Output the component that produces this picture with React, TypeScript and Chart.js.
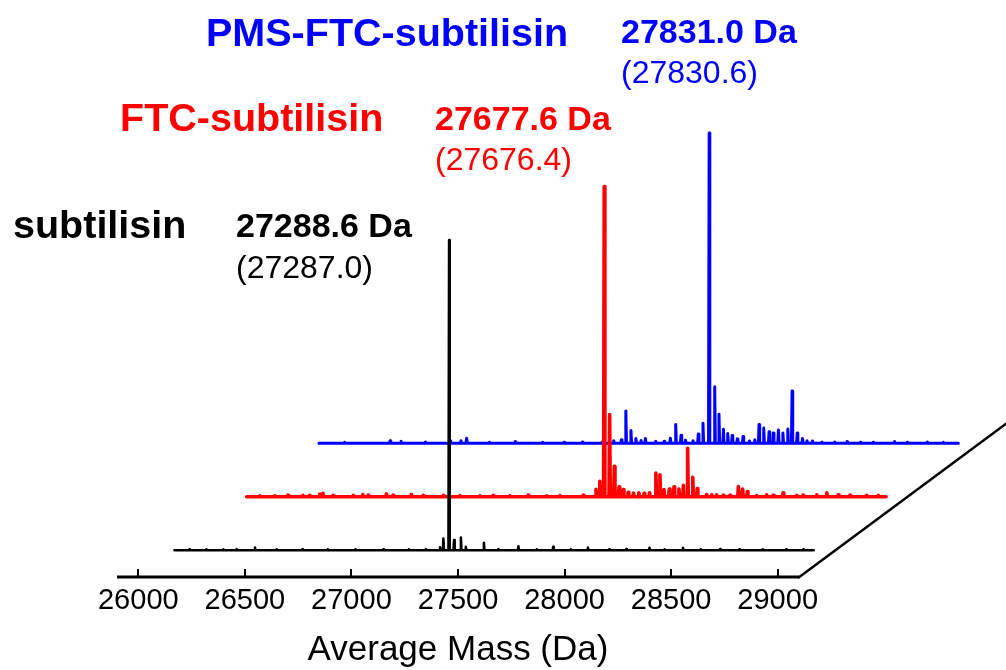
import { useEffect, useRef } from "react";
import { Chart, registerables } from "chart.js";

Chart.register(...registerables);

const FONT = '"Liberation Sans", Arial, Helvetica, sans-serif';

// ---- x axis ----
const axisMin = 25900;
const axisMax = 29100;
const tickValues = [26000, 26500, 27000, 27500, 28000, 28500, 29000];
const xAxisTitle = "Average Mass (Da)";

// ---- spectrum extent (each trace) ----
const spectrumStart = 26000;
const spectrumEnd = 29000;

// ---- waterfall depth ----
const depthStepMass = 339;
const depthStepIntensity = 17.25;
const depthPlanes = [0.5, 1.5, 2.5];
const depthTotal = 3;
const intensityMax = 186;

// ---- series labels ----
const seriesNames = ["subtilisin", "FTC-subtilisin", "PMS-FTC-subtilisin"];
const seriesColors = ["#000000", "#ff0000", "#0000ff"];
const observedMass = ["27288.6 Da", "27677.6 Da", "27831.0 Da"];
const expectedMass = ["(27287.0)", "(27676.4)", "(27830.6)"];

// ---- subtilisin (black) ----
const subtilisinMass = [
  26070, 26150, 26230, 26292, 26378, 26480, 26600, 26720, 26850, 26980, 27100, 27180,
  27246, 27262, 27288.6, 27312, 27344, 27367, 27452, 27520, 27614, 27700, 27777, 27860,
  27940, 28040, 28120, 28229, 28300, 28386, 28470, 28560, 28650, 28760, 28870, 28950,
];
const subtilisinIntensity = [
  0.3, 0.3, 0.3, 0.4, 0.9, 0.3, 0.3, 0.3, 0.3, 0.3, 0.3, 0.4,
  1.0, 3.8, 100, 3.3, 4.1, 1.1, 2.4, 0.4, 1.3, 0.3, 1.1, 0.3,
  0.9, 0.3, 0.4, 0.8, 0.3, 0.8, 0.3, 0.4, 0.3, 0.3, 0.3, 0.3,
];

// ---- FTC-subtilisin (red) ----
const ftcMass = [
  26061, 26132, 26194, 26264, 26296, 26343, 26358, 26405, 26499, 26545, 26570, 26656,
  26687, 26773, 26828, 26922, 27000, 27094, 27156, 27235, 27321, 27407, 27470, 27579,
  27639, 27657, 27677.6, 27703, 27725, 27747, 27767, 27790, 27815, 27840, 27865, 27890,
  27920, 27939, 27958, 27983, 28005, 28028, 28049, 28069, 28093, 28114, 28158, 28182,
  28205, 28236, 28268, 28307, 28327, 28349, 28393, 28440, 28471, 28517, 28581, 28612,
  28675, 28722, 28776, 28831, 28909, 28964,
];
const ftcIntensity = [
  0.3, 0.3, 0.5, 0.5, 0.5, 0.9, 1.1, 0.4, 0.4, 0.7, 0.5, 0.9,
  0.5, 0.7, 0.4, 0.4, 0.4, 0.3, 0.4, 0.3, 0.5, 0.3, 0.4, 0.5,
  2.4, 5.0, 100, 26.5, 9.8, 3.2, 2.3, 1.4, 1.2, 1.3, 1.1, 1.3,
  7.6, 7.1, 2.3, 2.5, 3.2, 2.5, 3.7, 15.6, 6.3, 2.6, 0.7, 0.6,
  0.6, 0.5, 0.5, 3.3, 2.5, 1.7, 0.4, 0.6, 0.5, 1.3, 0.5, 0.6,
  0.6, 1.3, 0.6, 0.5, 0.5, 0.4,
];

// ---- PMS-FTC-subtilisin (blue) ----
const pmsMass = [
  26120, 26334, 26385, 26500, 26615, 26666, 26693, 26800, 26921, 27050, 27150, 27236,
  27330, 27383, 27419, 27440, 27464, 27487, 27511, 27532, 27580, 27620, 27649, 27674,
  27699, 27720, 27755, 27780, 27802, 27831.0, 27857, 27877, 27898, 27918, 27939, 27963,
  27990, 28020, 28045, 28065, 28087, 28112, 28132, 28156, 28177, 28200, 28220, 28244,
  28269, 28290, 28316, 28360, 28420, 28478, 28540, 28600, 28701, 28760, 28855, 28930,
];
const pmsIntensity = [
  0.3, 0.8, 0.6, 0.4, 0.8, 0.8, 1.6, 0.3, 0.5, 0.3, 0.3, 0.4,
  0.4, 0.8, 1.1, 10.4, 4.1, 1.5, 0.9, 1.5, 0.6, 0.6, 1.6, 6.0,
  2.6, 1.0, 0.8, 3.0, 6.4, 100, 18.2, 9.3, 4.5, 3.1, 2.5, 1.4,
  2.2, 0.7, 1.1, 6.0, 4.9, 3.7, 3.3, 4.3, 3.3, 4.6, 16.8, 3.3,
  1.5, 0.8, 0.7, 0.4, 0.4, 0.5, 0.3, 0.3, 0.5, 0.3, 0.4, 0.3,
];

const seriesMasses = [subtilisinMass, ftcMass, pmsMass];
const seriesIntensities = [subtilisinIntensity, ftcIntensity, pmsIntensity];
const seriesLineWidths = [2.5, 3.6, 3];

function buildSpectrum(masses: number[], intensities: number[], halfWidth: number) {
  const pts: { x: number; y: number }[] = [{ x: spectrumStart, y: 0 }];
  masses.forEach((m, i) => {
    pts.push({ x: m - halfWidth, y: 0 }, { x: m, y: intensities[i] }, { x: m + halfWidth, y: 0 });
  });
  pts.push({ x: spectrumEnd, y: 0 });
  return pts;
}

const axisPlugin = {
  id: "waterfallAxis",
  afterDatasetsDraw(chart: any) {
    const xs = chart.scales.x;
    const ys = chart.scales.y;
    const ctx = chart.ctx as CanvasRenderingContext2D;
    const y0 = ys.getPixelForValue(0);
    const xL = xs.getPixelForValue(axisMin);
    const xR = xs.getPixelForValue(axisMax);
    ctx.save();
    ctx.strokeStyle = "#000";
    ctx.lineCap = "butt";
    ctx.lineWidth = 3;
    ctx.beginPath();
    ctx.moveTo(xL, y0);
    ctx.lineTo(xR, y0);
    ctx.stroke();
    ctx.lineWidth = 2.5;
    ctx.beginPath();
    ctx.moveTo(xR - 1, y0 + 1);
    ctx.lineTo(
      xs.getPixelForValue(axisMax + depthTotal * depthStepMass),
      ys.getPixelForValue(depthTotal * depthStepIntensity)
    );
    ctx.stroke();
    ctx.lineWidth = 2;
    ctx.beginPath();
    tickValues.forEach((v) => {
      const px = Math.round(xs.getPixelForValue(v));
      ctx.moveTo(px, y0);
      ctx.lineTo(px, y0 - 8);
    });
    ctx.stroke();
    ctx.restore();
  },
  afterDraw(chart: any) {
    const ctx = chart.ctx as CanvasRenderingContext2D;
    ctx.save();
    ctx.textBaseline = "alphabetic";
    ctx.textAlign = "left";
    const nameX = [13, 120, 206];
    const nameY = [238, 131, 46];
    const valX = [236, 435, 621];
    const valY = [237, 130, 43];
    const expY = [278, 170, 83];
    for (let k = 0; k < 3; k++) {
      ctx.fillStyle = seriesColors[k];
      ctx.font = `bold 39.5px ${FONT}`;
      ctx.fillText(seriesNames[k], nameX[k], nameY[k]);
      ctx.font = `bold 34px ${FONT}`;
      ctx.fillText(observedMass[k], valX[k], valY[k]);
      ctx.font = `32px ${FONT}`;
      ctx.fillText(expectedMass[k], valX[k], expY[k]);
    }
    ctx.restore();
  },
};

export default function App() {
  const ref = useRef<HTMLCanvasElement | null>(null);

  useEffect(() => {
    if (!ref.current) return;
    const scales: any = {
      x: {
        type: "linear",
        position: "bottom",
        bounds: "data",
        afterDataLimits: (s: any) => {
          s.min = axisMin;
          s.max = axisMax;
        },
        afterBuildTicks: (s: any) => {
          s.ticks = tickValues.map((v) => ({ value: v }));
        },
        afterFit: (s: any) => {
          s.height = 93;
        },
        grid: { display: false, drawTicks: false },
        border: { display: false },
        ticks: {
          autoSkip: false,
          maxRotation: 0,
          padding: 7,
          color: "#000",
          font: { family: FONT, size: 29 },
          callback: (v: any) => String(v),
        },
        title: {
          display: true,
          text: xAxisTitle,
          color: "#000",
          font: { family: FONT, size: 35 },
          padding: { top: 0, bottom: -1 },
        },
      },
      y: { type: "linear", display: false, min: 0, max: intensityMax },
    };
    depthPlanes.forEach((d, k) => {
      scales[`xs${k}`] = {
        type: "linear",
        axis: "x",
        display: false,
        bounds: "data",
        afterDataLimits: (s: any) => {
          s.min = axisMin - d * depthStepMass;
          s.max = axisMax - d * depthStepMass;
        },
      };
      scales[`ys${k}`] = {
        type: "linear",
        axis: "y",
        display: false,
        min: -d * depthStepIntensity,
        max: intensityMax - d * depthStepIntensity,
      };
    });

    const datasets = seriesNames.map((name, k) => ({
      label: name,
      data: buildSpectrum(seriesMasses[k], seriesIntensities[k], 3),
      xAxisID: `xs${k}`,
      yAxisID: `ys${k}`,
      borderColor: seriesColors[k],
      backgroundColor: seriesColors[k],
      borderWidth: seriesLineWidths[k],
      pointRadius: 0,
      tension: 0,
      fill: false,
      clip: false as any,
      borderJoinStyle: "round" as const,
      borderCapStyle: "round" as const,
    }));

    const chart = new Chart(ref.current, {
      type: "line",
      data: { datasets },
      options: {
        responsive: false,
        animation: false,
        devicePixelRatio: 1,
        layout: { padding: { left: 117, right: 207, top: 0, bottom: 0 } },
        plugins: { legend: { display: false }, tooltip: { enabled: false }, title: { display: false } },
        scales,
      },
      plugins: [axisPlugin],
    });
    return () => chart.destroy();
  }, []);

  return (
    <div style={{ position: "absolute", left: 0, top: 0, width: 1006, height: 670, background: "#fff" }}>
      <canvas ref={ref} width={1006} height={670} style={{ display: "block" }} />
    </div>
  );
}
